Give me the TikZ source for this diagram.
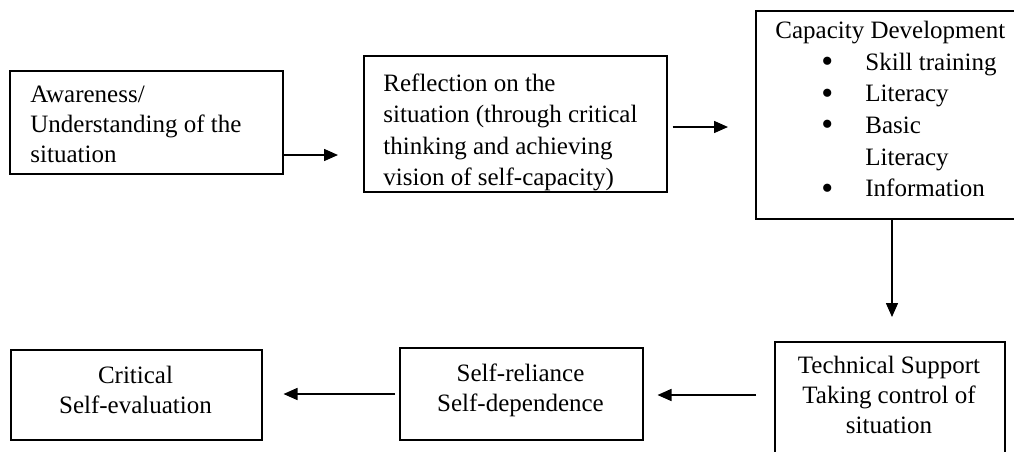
\documentclass[tikz,border=0pt]{standalone}
\usepackage{fontspec}
\setmainfont{Liberation Serif}
\usetikzlibrary{arrows.meta}
\newcommand{\pxu}{0.5pt}
\newcommand{\itemdot}{\hspace*{23pt}\makebox[22pt][l]{\smash{\raisebox{-1.2pt}{\fontsize{17}{0}\selectfont\textbullet}}}}
\tikzset{
  stage/.style={draw, line width=0.75pt, rectangle, anchor=north west, inner sep=0pt},
  stagetext/.style={inner sep=0pt, font=\fontsize{12.5}{15}\selectfont},
  widetext/.style={inner sep=0pt, font=\fontsize{12.5}{15.8}\selectfont},
  flow/.style={line width=0.75pt, -{Triangle[length=7pt,width=6pt]}}
}

\begin{document}
\begin{tikzpicture}[x=\pxu, y=-\pxu]
\useasboundingbox (0,0) rectangle (1014,451);
\clip (0,0) rectangle (1014,451);

% boxes
\node[stage, minimum width=273*\pxu, minimum height=103*\pxu] (aware) at (9,70) {};
\node[stage, minimum width=303*\pxu, minimum height=136*\pxu] (reflect) at (363,55) {};
\node[stage, minimum width=275*\pxu, minimum height=208*\pxu] (capdev) at (755,10) {};
\node[stage, minimum width=230*\pxu, minimum height=130*\pxu] (techsup) at (774,341) {};
\node[stage, minimum width=243*\pxu, minimum height=92*\pxu] (selfrel) at (399,347) {};
\node[stage, minimum width=251*\pxu, minimum height=90*\pxu] (critical) at (10,349) {};

% texts
\node[stagetext, anchor=north west, align=left] (awaretxt) at (30,86)
  {Awareness/\\Understanding of the\\situation};
\node[widetext, anchor=north west, align=left] (reflecttxt) at (383,73)
  {Reflection on the\\situation (through critical\\thinking and achieving\\vision of self-capacity)};
\node[widetext, anchor=north west, align=left] (capdevtxt) at (775,21)
  {Capacity Development\\
   \itemdot Skill training\\
   \itemdot Literacy\\
   \itemdot Basic\\
   \hspace*{45pt}Literacy\\
   \itemdot Information};
\node[stagetext, anchor=north, align=center] (techsuptxt) at (889,356)
  {Technical Support\\Taking control of\\situation};
\node[stagetext, anchor=north, align=center] (selfreltxt) at (520.5,363)
  {Self-reliance\\Self-dependence};
\node[stagetext, anchor=north, align=center] (criticaltxt) at (135.5,366)
  {Critical\\Self-evaluation};

% arrows
\draw[flow, shorten >=25*\pxu] (aware.east |- 0,155) -- (reflect.west |- 0,155);
\draw[flow, shorten <=5*\pxu, shorten >=27*\pxu] (reflect.east |- 0,127) -- (capdev.west |- 0,127);
\draw[flow, shorten >=24*\pxu] (capdev.south -| 892,0) -- (techsup.north -| 892,0);
\draw[flow, shorten <=18*\pxu, shorten >=14*\pxu] (techsup.west |- 0,395) -- (selfrel.east |- 0,395);
\draw[flow, shorten <=4*\pxu, shorten >=21*\pxu] (selfrel.west |- 0,394) -- (critical.east |- 0,394);
\end{tikzpicture}
\end{document}
